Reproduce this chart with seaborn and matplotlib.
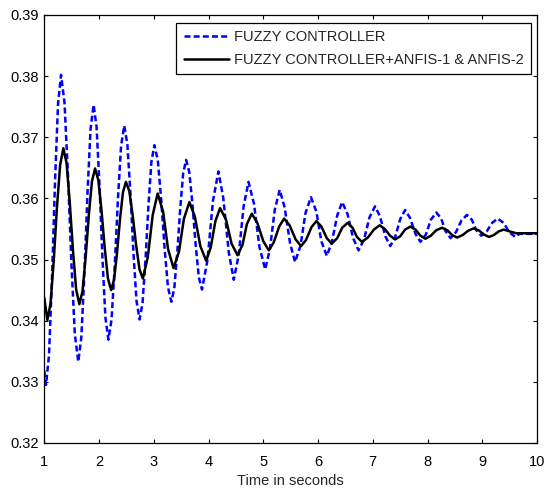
import matplotlib
matplotlib.use("Agg")
import matplotlib.pyplot as plt
import seaborn as sns
import pandas as pd

# ---- data ----
fuzzy_t = [1.00, 1.03,
           1.085, 1.14, 1.195, 1.25, 1.305,
           1.368, 1.431, 1.494, 1.557, 1.62,
           1.676, 1.732, 1.788, 1.844, 1.90,
           1.954, 2.008, 2.062, 2.116, 2.17,
           2.228, 2.286, 2.344, 2.402, 2.46,
           2.516, 2.572, 2.628, 2.684, 2.74,
           2.794, 2.848, 2.902, 2.956, 3.01,
           3.072, 3.134, 3.196, 3.258, 3.32,
           3.374, 3.428, 3.482, 3.536, 3.59,
           3.648, 3.706, 3.764, 3.822, 3.88,
           3.98, 4.08, 4.18,
           4.27, 4.37, 4.46, 4.55, 4.64, 4.73, 4.83, 4.93, 5.035, 5.12, 5.21, 5.30,
           5.39, 5.49, 5.58, 5.68, 5.77, 5.87, 5.97, 6.06, 6.16, 6.25, 6.35, 6.44,
           6.54, 6.64, 6.74, 6.84, 6.94, 7.04, 7.13, 7.23, 7.32, 7.41, 7.50, 7.59,
           7.68, 7.78, 7.87, 7.97, 8.06, 8.16, 8.25, 8.33, 8.42, 8.52, 8.62, 8.72,
           8.81, 8.89, 8.98, 9.08, 9.18, 9.28, 9.39, 9.49, 9.60, 9.68, 10.0]
fuzzy_v = [0.3318, 0.3295,
           0.3343, 0.3470, 0.3627, 0.3754, 0.3802,
           0.3757, 0.3640, 0.3495, 0.3378, 0.3333,
           0.3373, 0.3478, 0.3608, 0.3713, 0.3753,
           0.3717, 0.3621, 0.3501, 0.3405, 0.3369,
           0.3402, 0.3490, 0.3598, 0.3686, 0.3719,
           0.3689, 0.3610, 0.3511, 0.3432, 0.3402,
           0.3429, 0.3500, 0.3589, 0.3660, 0.3687,
           0.3663, 0.3599, 0.3519, 0.3455, 0.3431,
           0.3453, 0.3511, 0.3583, 0.3641, 0.3663,
           0.3643, 0.3590, 0.3524, 0.3471, 0.3451,
           0.3499, 0.3596, 0.3644,
           0.3600, 0.3511, 0.3467, 0.3507, 0.3587, 0.3627, 0.3591, 0.3520, 0.3484, 0.3517, 0.3582, 0.3614,
           0.3585, 0.3526, 0.3496, 0.3523, 0.3576, 0.3602, 0.3578, 0.3530, 0.3506, 0.3528, 0.3572, 0.3594,
           0.3574, 0.3535, 0.3515, 0.3533, 0.3569, 0.3587, 0.3571, 0.3538, 0.3522, 0.3537, 0.3566, 0.3581,
           0.3568, 0.3542, 0.3529, 0.3541, 0.3565, 0.3577, 0.3567, 0.3546, 0.3535, 0.3545, 0.3564, 0.3573,
           0.3565, 0.3548, 0.3539, 0.3546, 0.3560, 0.3567, 0.3560, 0.3545, 0.3537, 0.3542, 0.3542]

anfis_t = [1.00, 1.055,
           1.113, 1.172, 1.230, 1.289, 1.347,
           1.406, 1.464, 1.523, 1.581, 1.64,
           1.697, 1.755, 1.812, 1.870, 1.927,
           1.986, 2.045, 2.103, 2.162, 2.22,
           2.274, 2.328, 2.382, 2.436, 2.49,
           2.552, 2.614, 2.676, 2.738, 2.80,
           2.89, 2.98, 3.07,
           3.17, 3.26, 3.36, 3.46, 3.55, 3.65, 3.75, 3.85, 3.956, 4.04, 4.125, 4.21,
           4.32, 4.42, 4.53, 4.62, 4.70, 4.79, 4.89, 5.00, 5.10, 5.19, 5.29, 5.38,
           5.48, 5.59, 5.69, 5.78, 5.88, 5.97, 6.06, 6.16, 6.25, 6.35, 6.44, 6.54,
           6.63, 6.71, 6.80, 6.91, 7.02, 7.125, 7.22, 7.315, 7.41, 7.50, 7.59, 7.685,
           7.78, 7.87, 7.96, 8.06, 8.16, 8.265, 8.36, 8.45, 8.54, 8.64, 8.74, 8.84,
           8.93, 9.03, 9.12, 9.21, 9.30, 9.39, 9.50, 9.62, 10.0]
anfis_v = [0.3437, 0.3401,
           0.3428, 0.3498, 0.3585, 0.3655, 0.3682,
           0.3658, 0.3594, 0.3515, 0.3451, 0.3427,
           0.3448, 0.3504, 0.3572, 0.3628, 0.3649,
           0.3630, 0.3580, 0.3519, 0.3469, 0.3450,
           0.3467, 0.3511, 0.3566, 0.3610, 0.3627,
           0.3612, 0.3572, 0.3524, 0.3484, 0.3469,
           0.3504, 0.3573, 0.3608,
           0.3578, 0.3517, 0.3486, 0.3513, 0.3567, 0.3594, 0.3570, 0.3522, 0.3498, 0.3520, 0.3563, 0.3584,
           0.3565, 0.3526, 0.3507, 0.3524, 0.3558, 0.3575, 0.3560, 0.3530, 0.3515, 0.3528, 0.3554, 0.3567,
           0.3556, 0.3533, 0.3522, 0.3532, 0.3553, 0.3563, 0.3554, 0.3535, 0.3526, 0.3535, 0.3552, 0.3560,
           0.3552, 0.3537, 0.3529, 0.3536, 0.3549, 0.3556, 0.3550, 0.3539, 0.3533, 0.3538, 0.3549, 0.3554,
           0.3549, 0.3539, 0.3534, 0.3539, 0.3548, 0.3552, 0.3548, 0.3540, 0.3536, 0.3540, 0.3547, 0.3551,
           0.3548, 0.3541, 0.3537, 0.3540, 0.3546, 0.3549, 0.3546, 0.3543, 0.3543]

series_names = ["FUZZY CONTROLLER", "FUZZY CONTROLLER+ANFIS-1 & ANFIS-2"]
x_ticks = [1, 2, 3, 4, 5, 6, 7, 8, 9, 10]
y_ticks = [0.32, 0.33, 0.34, 0.35, 0.36, 0.37, 0.38, 0.39]
x_label = "Time in seconds"

# ---- build table ----
df = pd.concat([
    pd.DataFrame({"t": fuzzy_t, "v": fuzzy_v, "series": series_names[0]}),
    pd.DataFrame({"t": anfis_t, "v": anfis_v, "series": series_names[1]}),
], ignore_index=True)

sns.set_style("ticks")
plt.rcParams["font.family"] = ["Liberation Sans", "DejaVu Sans"]
plt.rcParams["lines.scale_dashes"] = False
plt.rcParams["xtick.direction"] = "in"
plt.rcParams["ytick.direction"] = "in"

FS = 10.5

fig = plt.figure(figsize=(5.44, 4.91), dpi=100)
ax = fig.add_axes([0.0815, 0.0978, 0.9057, 0.8717])

sns.lineplot(data=df, x="t", y="v", hue="series", style="series",
             palette={series_names[0]: "#0000FF", series_names[1]: "#000000"},
             dashes={series_names[0]: (4.3, 2.3), series_names[1]: ""},
             sort=False, estimator=None, linewidth=1.8, ax=ax, legend=True)

ax.set_xlim(1, 10)
ax.set_ylim(0.32, 0.39)
ax.set_xticks(x_ticks)
ax.set_xticklabels([str(v) for v in x_ticks])
ax.set_yticks(y_ticks)
ax.set_yticklabels([f"{v:.2f}" for v in y_ticks])
ax.tick_params(axis="both", which="both", direction="in", length=3, width=0.8,
               top=True, right=True, labelsize=FS, colors="black")
ax.tick_params(axis="x", pad=9)
ax.tick_params(axis="y", pad=4)
for s in ax.spines.values():
    s.set_visible(True)
    s.set_color("black")
    s.set_linewidth(0.9)
ax.set_xlabel(x_label, fontsize=FS, labelpad=3)
ax.set_ylabel("")

leg = ax.legend(loc="upper right", bbox_to_anchor=(0.988, 0.981), borderaxespad=0,
                fontsize=FS, frameon=True, fancybox=False, edgecolor="black",
                framealpha=1, handlelength=3.1, handletextpad=0.35,
                labelspacing=0.6, borderpad=0.5)
leg.get_frame().set_linewidth(0.9)
for h in leg.get_lines():
    h.set_linewidth(1.8)

fig.savefig("out.png", dpi=100)
